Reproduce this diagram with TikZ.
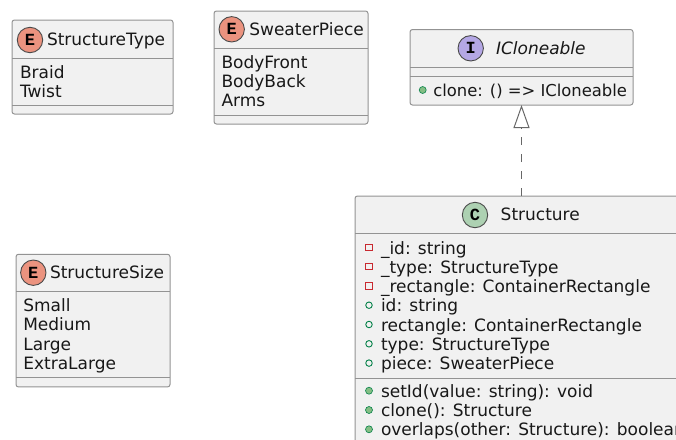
\documentclass[tikz,border=0pt]{standalone}
\usepackage{fontspec}
\setmainfont{DejaVu Sans}
\newfontfamily\spotfont{Liberation Mono}
\usetikzlibrary{arrows.meta}

\definecolor{boxfill}{HTML}{F1F1F1}
\definecolor{boxline}{HTML}{939393}
\definecolor{spotline}{HTML}{4A4A4A}
\definecolor{enumspot}{HTML}{EB937F}
\definecolor{ifacespot}{HTML}{B4A7E5}
\definecolor{classspot}{HTML}{ADD1B2}
\definecolor{privred}{HTML}{C82930}
\definecolor{pubgreen}{HTML}{038048}
\definecolor{pubfill}{HTML}{84BE84}
\definecolor{txtcol}{HTML}{181818}

\tikzset{
  umlbox/.style={draw=boxline, fill=boxfill, line width=1pt, rounded corners=2.5pt,
                 inner sep=0pt, outer sep=0pt},
  sepline/.style={draw=boxline, line width=1pt},
  spot/.style={circle, draw=spotline, line width=0.9pt, minimum size=25.4pt, inner sep=0pt,
               font=\spotfont\bfseries\fontsize{17}{17}\selectfont, text=black},
  txt/.style={anchor=base west, inner sep=0pt, outer sep=0pt, text=txtcol},
  privmark/.style={draw=privred, line width=0.9pt, fill=none},
  pubfield/.style={draw=pubgreen, line width=0.9pt, fill=none},
  pubmethod/.style={draw=pubgreen, line width=0.6pt, fill=pubfill},
  realizes/.style={draw=boxline!70!black, line width=1pt, dash pattern=on 8.5pt off 8.5pt,
                   -{Triangle[open, length=23pt, width=16pt, line width=1pt]}},
}

\begin{document}
\begin{tikzpicture}[x=1pt, y=-1pt, font=\fontsize{17}{19.3}\selectfont]
\useasboundingbox (0,0) rectangle (676,439);
\clip (0,0) rectangle (676,439);

% ---- enum StructureType ----
\node[umlbox, minimum width=161pt, minimum height=94pt] (stype) at (92.5,67) {};
\draw[sepline] (12,58) -- (173,58);
\draw[sepline] (12,105) -- (173,105);
\node[spot, fill=enumspot] (stypespot) at (30,40) {E};
\node[txt] (stypename) at (47,45.7) {StructureType};
\node[txt] (stypea) at (20,78.5) {Braid};
\node[txt] (stypeb) at (20,97.8) {Twist};

% ---- enum SweaterPiece ----
\node[umlbox, minimum width=154pt, minimum height=113pt] (spiece) at (291,67.5) {};
\draw[sepline] (214,48.7) -- (368,48.7);
\draw[sepline] (214,115) -- (368,115);
\node[spot, fill=enumspot] (spiecespot) at (231.7,29.3) {E};
\node[txt] (spiecename) at (249.3,35.7) {SweaterPiece};
\node[txt] (spiecea) at (221.5,68.3) {BodyFront};
\node[txt] (spieceb) at (221.5,87.5) {BodyBack};
\node[txt] (spiecec) at (221.5,106.7) {Arms};

% ---- enum StructureSize ----
\node[umlbox, minimum width=154pt, minimum height=132.7pt] (ssize) at (93,320.6) {};
\draw[sepline] (16,291.7) -- (170,291.7);
\draw[sepline] (16,377.3) -- (170,377.3);
\node[spot, fill=enumspot] (ssizespot) at (33.3,272.7) {E};
\node[txt] (ssizename) at (50,278.3) {StructureSize};
\node[txt] (ssizea) at (23.3,311.7) {Small};
\node[txt] (ssizeb) at (23.3,330.9) {Medium};
\node[txt] (ssizec) at (23.3,350.1) {Large};
\node[txt] (ssized) at (23.3,369.3) {ExtraLarge};

% ---- interface ICloneable ----
\node[umlbox, minimum width=223pt, minimum height=75.5pt] (icl) at (521.5,67.25) {};
\draw[sepline] (410,67.7) -- (633,67.7);
\draw[sepline] (410,76.7) -- (633,76.7);
\node[spot, fill=ifacespot] (iclspot) at (470.7,48.3) {I};
\node[txt] (iclname) at (496,54.3) {\itshape ICloneable};
\node[pubmethod, circle, inner sep=0pt, minimum size=7pt] (iclm1mark) at (422.7,90) {};
\node[txt, font=\fontsize{16.4}{19.3}\selectfont] (iclm1) at (433.3,96.7) {clone: () => ICloneable};

% ---- class Structure ----
\node[umlbox, minimum width=333pt, minimum height=264pt] (struct) at (521.5,328) {};
\draw[sepline] (355,233.3) -- (688,233.3);
\draw[sepline] (355,378.3) -- (688,378.3);
\node[spot, fill=classspot] (structspot) at (475,215) {C};
\node[txt] (structname) at (500.7,220.7) {Structure};

% private fields
\node[privmark, rectangle, inner sep=0pt, minimum size=6.5pt] (pf1mark) at (369,247.3) {};
\node[txt] (pf1) at (381,254) {\_id: string};
\node[privmark, rectangle, inner sep=0pt, minimum size=6.5pt] (pf2mark) at (369,266.6) {};
\node[txt] (pf2) at (381,273.3) {\_type: StructureType};
\node[privmark, rectangle, inner sep=0pt, minimum size=6.5pt] (pf3mark) at (369,285.9) {};
\node[txt] (pf3) at (381,292.6) {\_rectangle: ContainerRectangle};
% public fields
\node[pubfield, circle, inner sep=0pt, minimum size=6.5pt] (uf1mark) at (369,305.2) {};
\node[txt] (uf1) at (381,311.9) {id: string};
\node[pubfield, circle, inner sep=0pt, minimum size=6.5pt] (uf2mark) at (369,324.5) {};
\node[txt] (uf2) at (381,331.2) {rectangle: ContainerRectangle};
\node[pubfield, circle, inner sep=0pt, minimum size=6.5pt] (uf3mark) at (369,343.8) {};
\node[txt] (uf3) at (381,350.5) {type: StructureType};
\node[pubfield, circle, inner sep=0pt, minimum size=6.5pt] (uf4mark) at (369,363.1) {};
\node[txt] (uf4) at (381,369.8) {piece: SweaterPiece};
% public methods
\node[pubmethod, circle, inner sep=0pt, minimum size=7pt] (m1mark) at (369,390.7) {};
\node[txt] (m1) at (381,397.3) {setId(value: string): void};
\node[pubmethod, circle, inner sep=0pt, minimum size=7pt] (m2mark) at (369,410) {};
\node[txt] (m2) at (381,416.6) {clone(): Structure};
\node[pubmethod, circle, inner sep=0pt, minimum size=7pt] (m3mark) at (369,429.3) {};
\node[txt] (m3) at (381,435.9) {overlaps(other: Structure): boolean};

% ---- realization Structure ..|> ICloneable ----
\draw[realizes] (struct.north) -- (icl.south);
\end{tikzpicture}
\end{document}
